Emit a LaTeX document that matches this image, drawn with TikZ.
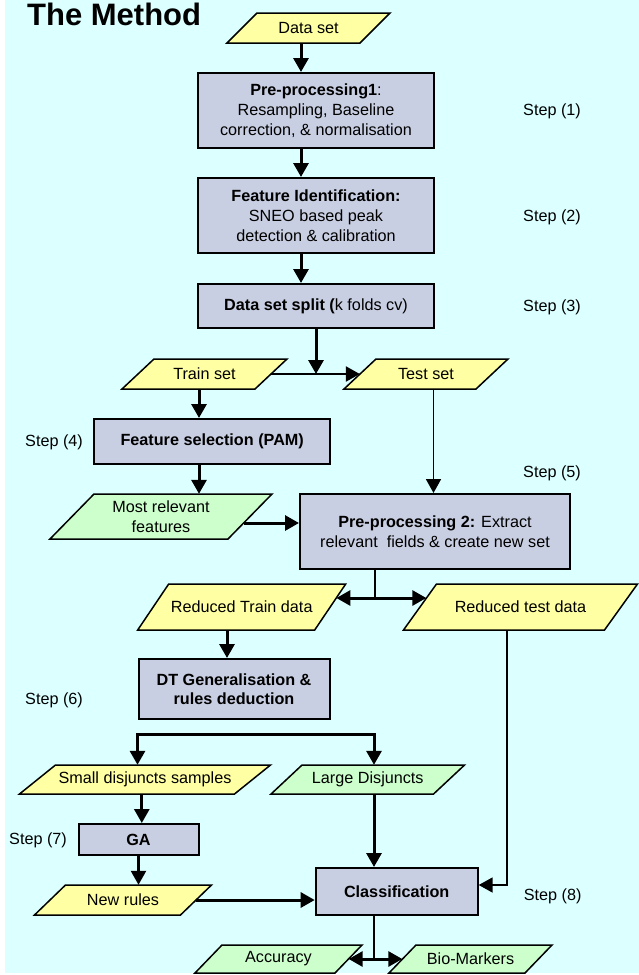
\documentclass[tikz,border=0pt]{standalone}
\usepackage{fontspec}
\setmainfont{Liberation Sans}
\usetikzlibrary{arrows.meta,calc}
\definecolor{bgc}{HTML}{DCFFFF}
\definecolor{yel}{HTML}{FFFFA3}
\definecolor{grn}{HTML}{CCFFCC}
\definecolor{boxc}{HTML}{C9CFE2}
\newcommand\pgram[8]{%
  \filldraw[pline, fill=#7] ({#2-#4/2},{#3+#5/2}) -- ({#2+#4/2-#6},{#3+#5/2}) -- ({#2+#4/2},{#3-#5/2}) -- ({#2-#4/2+#6},{#3-#5/2}) -- cycle;
  \node[ptxt, minimum width={(#4-#6)*1pt}, minimum height={#5*1pt}] (#1) at (#2,#3) {#8};
}
\begin{document}
\begin{tikzpicture}[x=1pt,y=-1pt,
  every node/.style={font=\fontsize{16.2}{20}\selectfont},
  pline/.style={draw=black, line width=1.5pt, line join=miter},
  ptxt/.style={inner sep=0pt, align=center},
  procbox/.style={draw=black, line width=2pt, fill=boxc, inner sep=0pt, align=center},
  steplbl/.style={anchor=west, inner sep=0pt},
  arr/.style={line width=3pt, -{Triangle[length=14pt,width=15pt]}},
  marr/.style={line width=2.4pt, -{Triangle[length=14pt,width=15pt]}},
  tarr/.style={line width=1.8pt, -{Triangle[length=14pt,width=15pt]}},
  darr/.style={line width=3pt, {Triangle[length=14pt,width=15pt]}-{Triangle[length=14pt,width=15pt]}},
  tline/.style={line width=1.4pt}]
\useasboundingbox (0,0) rectangle (639,975);
\fill[white] (0,0) rectangle (639,975);
\fill[bgc] (5,0) rectangle (639,973);

% title
\node[anchor=base west, inner sep=0pt, font=\fontsize{31}{36}\selectfont\bfseries] (title) at (27,25) {The Method};

% nodes
\pgram{ds}{308.5}{28}{163}{30}{30}{yel}{Data set}
\node[procbox, minimum width=236pt, minimum height=75pt] (b1) at (316,110.5) {\textbf{Pre-processing1}:\\Resampling, Baseline\\correction, \& normalisation};
\node[procbox, minimum width=236pt, minimum height=75pt] (b2) at (316,215.5) {\textbf{Feature Identification:}\\SNEO based peak\\detection \& calibration};
\node[procbox, minimum width=236pt, minimum height=44pt] (b3) at (316,306) {\textbf{Data set split (}k folds cv)};
\pgram{tr}{204.5}{374}{165}{30}{32}{yel}{Train set}
\pgram{te}{426}{374}{164}{30}{32}{yel}{Test set}
\node[procbox, minimum width=236pt, minimum height=45pt] (pam) at (212.2,441.5) {\textbf{Feature selection (PAM)}};
\pgram{mr}{161}{516.5}{222}{45}{44}{grn}{Most relevant\\features}
\node[procbox, minimum width=270pt, minimum height=75pt] (p2) at (435,531.5) {\textbf{Pre-processing 2:} Extract\\relevant\ \ fields \& create new set};
\pgram{rtr}{241.7}{607}{208}{46}{31}{yel}{Reduced Train data}
\pgram{rte}{520.5}{607}{234}{46}{33}{yel}{Reduced test data}
\node[procbox, minimum width=191pt, minimum height=60pt, font=\fontsize{16.2}{19}\selectfont] (dt) at (234,689) {\textbf{DT Generalisation \&}\\\textbf{rules deduction}};
\pgram{sd}{145}{779.5}{251}{29}{36}{yel}{Small disjuncts samples}
\pgram{ld}{367.8}{779.5}{193.5}{29}{31}{grn}{Large Disjuncts}
\node[procbox, minimum width=120pt, minimum height=31pt] (ga) at (138.5,839.5) {\textbf{GA}};
\pgram{nr}{123}{900}{177}{30}{31}{yel}{New rules}
\node[procbox, minimum width=162pt, minimum height=47pt] (cl) at (396.7,891.5) {\textbf{Classification}};
\pgram{acc}{278.5}{959}{167}{28}{27}{grn}{Accuracy}
\pgram{bio}{470.5}{959}{163}{28}{27}{grn}{Bio-Markers}

% step labels
\node[steplbl] (s1) at (523,111) {Step (1)};
\node[steplbl] (s2) at (523,217) {Step (2)};
\node[steplbl] (s3) at (523,307) {Step (3)};
\node[steplbl] (s4) at (25,442) {Step (4)};
\node[steplbl] (s5) at (523,473) {Step (5)};
\node[steplbl] (s6) at (25,700) {Step (6)};
\node[steplbl] (s7) at (9,840) {Step (7)};
\node[steplbl] (s8) at (523.6,896) {Step (8)};

% helper coordinates
\coordinate (cA) at (301,0);
\coordinate (cB) at (199,0);
\coordinate (cC) at (433.5,0);
\coordinate (cD) at (227,0);
\coordinate (cE) at (507.3,0);
\coordinate (cF) at (0,885);
\coordinate (cG) at (141.8,0);
\coordinate (j2) at (375,598);
\coordinate (bl) at (137.5,734);
\coordinate (br) at (374,734);
\coordinate (j3) at (374,959);

% connectors
\draw[arr] (ds.south -| cA) -- (b1.north -| cA);
\draw[arr] (b1.south -| cA) -- (b2.north -| cA);
\draw[arr] (b2.south -| cA) -- (b3.north -| cA);
\draw[arr] (b3.south) -- (b3.south |- tr.east);
\draw[marr] (tr.east) -- (te.west);
\draw[arr] (tr.south -| cB) -- (pam.north -| cB);
\draw[arr] (pam.south -| cB) -- (mr.north -| cB);
\draw[tarr] (te.south -| cC) -- (p2.north -| cC);
\draw[arr] ($(mr.east)+(-6.4,6.5)$) -- (p2.west |- {$(mr.east)+(0,6.5)$});
\draw[tline] (p2.south -| j2) -- (j2);
\draw[darr] ($(rtr.east)+(6,-9)$) -- ($(rte.west)+(6.5,-9)$);
\draw[arr] (rtr.south -| cD) -- (dt.north -| cD);
\draw[darr] (sd.north -| bl) -- (bl) -- (br) -- (ld.north -| br);
\draw[tarr] (rte.south -| cE) |- (cl.east |- cF);
\draw[arr] (sd.south -| cG) -- (ga.north -| cG);
\draw[marr] (ga.south) -- (ga.south |- nr.north);
\draw[arr] (nr.east) -- (cl.west |- nr.east);
\draw[arr] (ld.south -| br) -- (cl.north -| br);
\draw[tline] (cl.south -| j3) -- (j3);
\draw[darr] (acc.east) -- (bio.west);
\end{tikzpicture}
\end{document}
